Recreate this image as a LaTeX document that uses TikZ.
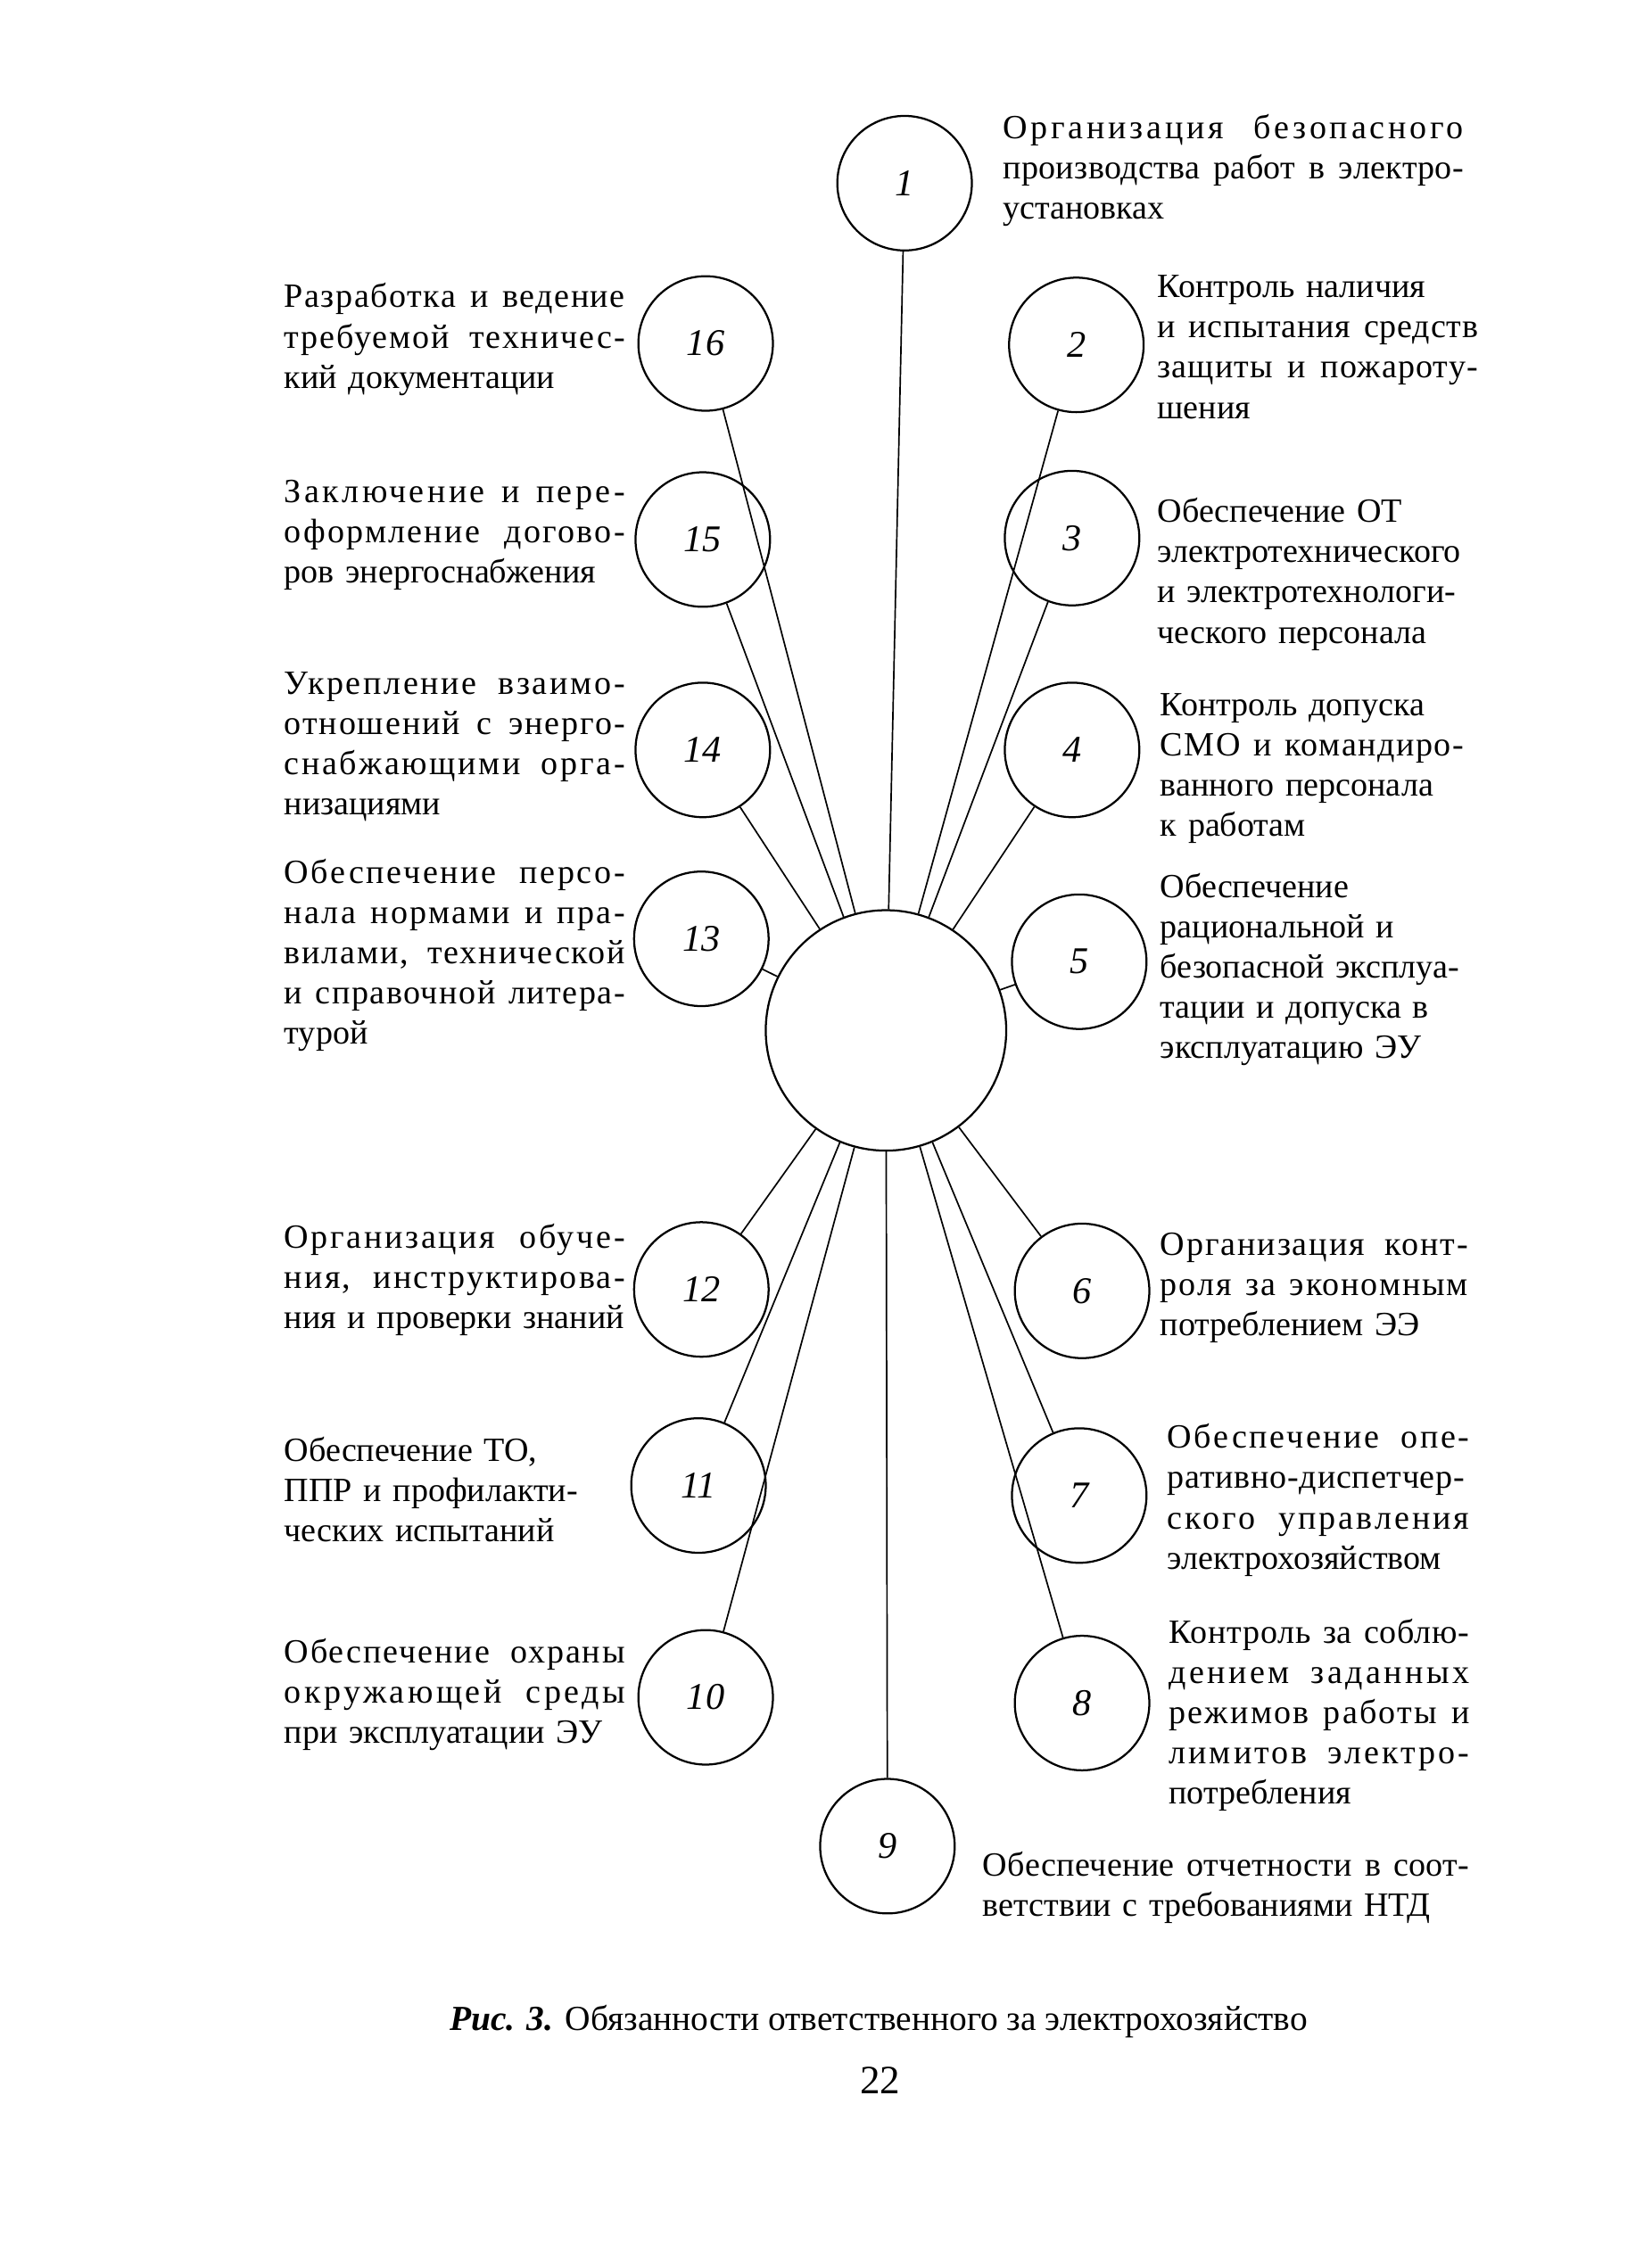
\documentclass[tikz,border=0pt]{standalone}
\usepackage{fontspec}
\setmainfont{Liberation Serif}
\usetikzlibrary{positioning}

% full-width line, spread by letter spacing (and a little by word spacing)
\newlength{\descw}
\newsavebox{\plainbox}
\newsavebox{\widebox}
\newcommand{\fl}[1]{%
    \leavevmode
    \sbox{\plainbox}{#1}%
    \sbox{\widebox}{\addfontfeature{LetterSpace=20}#1}%
    \edef\lsval{\the\numexpr 15*(\descw-\wd\plainbox)/(\wd\widebox-\wd\plainbox)\relax}%
    \hbox to \descw{\addfontfeature{LetterSpace=\lsval}\spaceskip=0.25em plus 1fil\relax #1}}

\begin{document}
\begin{tikzpicture}[x=0.2mm, y=-0.2mm, line width=0.8pt,
    desc/.style={anchor=base west, inner sep=0pt, text width=#1,
                 font=\fontsize{13.5}{16}\selectfont,
                 execute at begin node={\setlength{\descw}{#1}}}]
    \tikzstyle{duty} = [circle, draw, minimum size=18.8mm, inner sep=0pt,
                        font=\fontsize{15}{18}\selectfont\itshape]
    \tikzstyle{hub} = [circle, draw, minimum size=33.6mm]
    \tikzstyle{link} = [line width=0.6pt]

    \useasboundingbox (0,0) rectangle (1154,1568);

    % centre and duties
    \node [hub] (hub) at (619,720) {};
    \node [duty] (c1) at (632,128) {1};
    \node [duty] (c2) at (752,241) {2};
    \node [duty] (c3) at (749,376) {3};
    \node [duty] (c4) at (749,524) {4};
    \node [duty] (c5) at (754,672) {5};
    \node [duty] (c6) at (756,902) {6};
    \node [duty] (c7) at (754,1045) {7};
    \node [duty] (c8) at (756,1190) {8};
    \node [duty] (c9) at (620,1290) {9};
    \node [duty] (c10) at (493,1186) {10};
    \node [duty] (c11) at (488,1038) {11};
    \node [duty] (c12) at (490,901) {12};
    \node [duty] (c13) at (490,656) {13};
    \node [duty] (c14) at (491,524) {14};
    \node [duty] (c15) at (491,377) {15};
    \node [duty] (c16) at (493,240) {16};

    \foreach \n in {1,...,16}
        \draw [link] (c\n) -- (hub);

    % right side
    \node [desc=64.4mm] (t1) at (700,97) {
        \fl{Организация безопасного}\\
        \fl{производства работ в электро-}\\
        установках};
    \node [desc=44.8mm] (t2) at (808,208) {
        Контроль наличия\\
        \fl{и испытания средств}\\
        \fl{защиты и пожароту-}\\
        шения};
    \node [desc=44.4mm] (t3) at (808,365) {
        Обеспечение ОТ\\
        электротехнического\\
        и электротехнологи-\\
        ческого персонала};
    \node [desc=42.4mm] (t4) at (810,500) {
        Контроль допуска\\
        \fl{СМО и командиро-}\\
        ванного персонала\\
        к работам};
    \node [desc=44.4mm] (t5) at (810,627) {
        Обеспечение\\
        рациональной и\\
        безопасной эксплуа-\\
        тации и допуска в\\
        эксплуатацию ЭУ};
    \node [desc=43mm] (t6) at (810,877) {
        \fl{Организация конт-}\\
        \fl{роля за экономным}\\
        потреблением ЭЭ};
    \node [desc=42.2mm] (t7) at (815,1012) {
        \fl{Обеспечение опе-}\\
        \fl{ративно-диспетчер-}\\
        \fl{ского управления}\\
        электрохозяйством};
    \node [desc=42mm] (t8) at (816,1148) {
        \fl{Контроль за соблю-}\\
        \fl{дением заданных}\\
        \fl{режимов работы и}\\
        \fl{лимитов электро-}\\
        потребления};
    \node [desc=68mm] (t9) at (686,1311) {
        \fl{Обеспечение отчетности в соот-}\\
        ветствии с требованиями НТД};

    % left side
    \node [desc=47.6mm] (t16) at (198,215) {
        \fl{Разработка и ведение}\\
        \fl{требуемой техничес-}\\
        кий документации};
    \node [desc=47.6mm] (t15) at (198,351) {
        \fl{Заключение и пере-}\\
        \fl{оформление догово-}\\
        ров энергоснабжения};
    \node [desc=47.6mm] (t14) at (198,485) {
        \fl{Укрепление взаимо-}\\
        \fl{отношений с энерго-}\\
        \fl{снабжающими орга-}\\
        низациями};
    \node [desc=47.6mm] (t13) at (198,617) {
        \fl{Обеспечение персо-}\\
        \fl{нала нормами и пра-}\\
        \fl{вилами, технической}\\
        \fl{и справочной литера-}\\
        турой};
    \node [desc=47.6mm] (t12) at (198,872) {
        \fl{Организация обуче-}\\
        \fl{ния, инструктирова-}\\
        ния и проверки знаний};
    \node [desc=47.6mm] (t11) at (198,1021) {
        Обеспечение ТО,\\
        ППР и профилакти-\\
        ческих испытаний};
    \node [desc=47.6mm] (t10) at (198,1162) {
        \fl{Обеспечение охраны}\\
        \fl{окружающей среды}\\
        при эксплуатации ЭУ};

    % caption
    \node [anchor=base, inner sep=0pt, font=\fontsize{14}{16}\selectfont] (cap) at (614,1419)
        {\textbf{\textit{Рис. 3.}} Обязанности ответственного за электрохозяйство};
    \node [anchor=base, inner sep=0pt, font=\fontsize{16}{18}\selectfont] (page) at (615,1463) {22};
\end{tikzpicture}
\end{document}
